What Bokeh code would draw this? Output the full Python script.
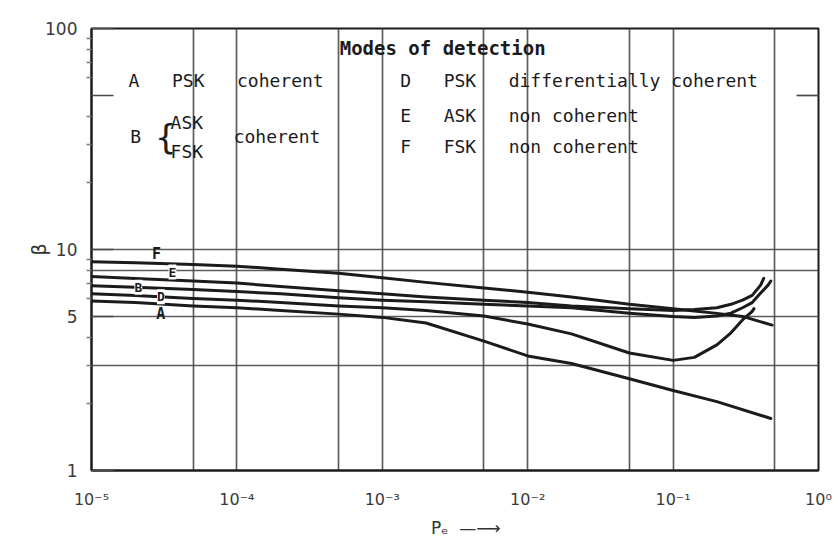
import numpy as np
from bokeh.plotting import figure
from bokeh.models import FixedTicker, CustomJSTickFormatter, LogAxis, Label, Range1d
from bokeh.embed import file_html
from bokeh.resources import INLINE

# ---------------- data ----------------
pe_main = [1e-5, 2e-5, 5e-5, 1e-4, 2e-4, 5e-4, 1e-3, 2e-3, 5e-3, 1e-2, 2e-2, 5e-2, 1e-1]

# A: PSK coherent
pe_A = pe_main + [0.2, 0.47]
beta_A = [5.85, 5.75, 5.55, 5.45, 5.3, 5.1, 4.93, 4.65, 3.85, 3.3, 3.05, 2.6, 2.3, 2.05, 1.72]

# B: ASK / FSK coherent
pe_B = pe_main + [0.14, 0.2, 0.25, 0.3, 0.35, 0.4, 0.45, 0.47]
beta_B = [6.85, 6.75, 6.6, 6.45, 6.3, 6.05, 5.9, 5.8, 5.65, 5.55, 5.45, 5.15, 4.97,
          4.93, 5.0, 5.15, 5.45, 5.75, 6.35, 6.9, 7.2]

# D: PSK differentially coherent
pe_D = pe_main + [0.14, 0.2, 0.25, 0.3, 0.35, 0.36]
beta_D = [6.3, 6.2, 6.0, 5.9, 5.75, 5.55, 5.45, 5.3, 5.0, 4.6, 4.15, 3.4, 3.15,
          3.25, 3.7, 4.2, 4.8, 5.25, 5.4]

# E: ASK non coherent
pe_E = pe_main + [0.14, 0.2, 0.25, 0.3, 0.35, 0.4, 0.42]
beta_E = [7.55, 7.4, 7.2, 7.05, 6.8, 6.5, 6.3, 6.1, 5.9, 5.75, 5.55, 5.4, 5.3,
          5.35, 5.45, 5.65, 5.9, 6.2, 6.9, 7.4]

# F: FSK non coherent
pe_F = pe_main + [0.14, 0.2, 0.3, 0.48]
beta_F = [8.8, 8.7, 8.55, 8.4, 8.15, 7.8, 7.45, 7.1, 6.7, 6.4, 6.1, 5.65, 5.4,
          5.27, 5.14, 4.98, 4.55]

x_ticks = [1e-5, 1e-4, 1e-3, 1e-2, 1e-1, 1.0]
x_grid = [5e-5, 1e-4, 5e-4, 1e-3, 5e-3, 1e-2, 5e-2, 1e-1, 5e-1]
y_ticks = [1, 5, 10, 50, 100]
y_minor = [2, 3, 4, 6, 7, 8, 9, 20, 30, 40, 60, 70, 80, 90]
y_grid = [3, 5, 8, 10]

NB = "\u00a0"
title_text = "Modes of detection"
legend_rows = {
    "A": "A" + NB * 3 + "PSK" + NB * 3 + "coherent",
    "D": "D" + NB * 3 + "PSK" + NB * 3 + "differentially coherent",
    "E": "E" + NB * 3 + "ASK" + NB * 3 + "non coherent",
    "F": "F" + NB * 3 + "FSK" + NB * 3 + "non coherent",
}

INK = "#1b1b1b"
GRID = "#4a4a4a"
MONO = "DejaVu Sans Mono"

# ---------------- figure ----------------
p = figure(width=833, height=542, x_axis_type="log", y_axis_type="log",
           x_range=Range1d(1e-5, 1.0), y_range=Range1d(1, 100),
           output_backend="svg", toolbar_location=None,
           min_border_left=91, min_border_right=15, min_border_top=28, min_border_bottom=72)
p.background_fill_color = "white"
p.border_fill_color = "white"
p.outline_line_color = INK
p.outline_line_width = 2

# grids
p.xgrid.ticker = FixedTicker(ticks=x_grid)
p.ygrid.ticker = FixedTicker(ticks=y_grid)
for g in (p.xgrid[0], p.ygrid[0]):
    g.grid_line_color = GRID
    g.grid_line_width = 1.7
    g.grid_line_alpha = 0.9

# x axis
xa = p.xaxis[0]
xa.ticker = FixedTicker(ticks=x_ticks, minor_ticks=[])
xa.formatter = CustomJSTickFormatter(code="""
const e = Math.round(Math.log10(tick));
const m = {"-":"\u207b","0":"\u2070","1":"\u00b9","2":"\u00b2","3":"\u00b3","4":"\u2074","5":"\u2075","6":"\u2076","7":"\u2077","8":"\u2078","9":"\u2079"};
return "10" + String(e).split("").map(c => m[c]).join("");
""")
xa.major_tick_in = 0
xa.major_tick_out = 0
xa.minor_tick_in = 0
xa.minor_tick_out = 0
xa.axis_line_color = INK
xa.axis_line_width = 2
xa.major_label_standoff = 19
xa.major_label_text_font = "DejaVu Sans"
xa.major_label_text_font_size = "16px"
xa.major_label_text_color = "#3a3a3a"
xa.axis_label = NB * 4 + "P\u2091" + NB * 2 + "\u2014\u27f6"
xa.axis_label_text_font = "DejaVu Sans"
xa.axis_label_text_font_size = "17px"
xa.axis_label_text_font_style = "normal"
xa.axis_label_text_color = "#333333"
xa.axis_label_standoff = 6

# y axis (left)
ya = p.yaxis[0]
ya.ticker = FixedTicker(ticks=y_ticks, minor_ticks=y_minor)
ya.formatter = CustomJSTickFormatter(code="return tick == 50 ? '' : tick.toFixed(0);")
ya.major_tick_in = 22
ya.major_tick_out = 0
ya.major_tick_line_color = GRID
ya.major_tick_line_width = 1.7
ya.minor_tick_in = 0
ya.minor_tick_out = 5
ya.minor_tick_line_color = "#7a7a7a"
ya.minor_tick_line_width = 1.5
ya.axis_line_color = INK
ya.axis_line_width = 2
ya.major_label_standoff = 9
ya.major_label_text_font = "DejaVu Sans"
ya.major_label_text_font_size = "17px"
ya.major_label_text_color = "#3a3a3a"
ya.axis_label = "\u03b2"
ya.axis_label_text_font = "DejaVu Sans"
ya.axis_label_text_font_size = "19px"
ya.axis_label_text_font_style = "normal"
ya.axis_label_text_color = "#333333"
ya.axis_label_standoff = -8

# y axis (right) - only the short inner tick
ra = LogAxis(ticker=FixedTicker(ticks=[50], minor_ticks=[]),
             formatter=CustomJSTickFormatter(code="return '';"))
ra.major_tick_in = 22
ra.major_tick_out = 0
ra.major_tick_line_color = GRID
ra.major_tick_line_width = 1.7
ra.minor_tick_in = 0
ra.minor_tick_out = 0
ra.axis_line_color = None
ra.major_label_text_font_size = "0px"
p.add_layout(ra, "right")

# ---------------- curves ----------------
for pe, beta in ((pe_F, beta_F), (pe_E, beta_E), (pe_B, beta_B), (pe_D, beta_D), (pe_A, beta_A)):
    p.line(pe, beta, line_color=INK, line_width=3, line_join="round", line_cap="round")


def at(pe_list, beta_list, pe):
    return float(10 ** np.interp(np.log10(pe), np.log10(pe_list), np.log10(beta_list)))


# ---------------- curve letters ----------------
def letter(text, x, y, size="13px", bg=False):
    lab = Label(x=x, y=y, text=text, text_align="center", text_baseline="middle",
                text_font=MONO, text_font_size=size, text_font_style="bold",
                text_color=INK)
    if bg:
        lab.background_fill_color = "white"
        lab.background_fill_alpha = 1.0
    p.add_layout(lab)


xf, xe, xb, xd, xa_ = 2.8e-5, 3.6e-5, 2.1e-5, 3.0e-5, 3.0e-5
letter("F", xf, at(pe_F, beta_F, xf) * 1.1, size="15px")
letter("E", xe, (at(pe_F, beta_F, xe) * at(pe_E, beta_E, xe)) ** 0.5, bg=True)
letter("B", xb, at(pe_B, beta_B, xb), bg=True)
letter("D", xd, at(pe_D, beta_D, xd), bg=True)
letter("A", xa_, at(pe_A, beta_A, xa_) / 1.11, size="15px")


# ---------------- legend block ----------------
def text(t, x, y, size="18px", align="left", bold=False):
    p.add_layout(Label(x=x, y=y, text=t, text_align=align, text_baseline="middle",
                       text_font=MONO, text_font_size=size,
                       text_font_style="bold" if bold else "normal", text_color=INK))


text(title_text, 2.6e-3, 82, size="19px", align="center", bold=True)
text(legend_rows["A"], 1.8e-5, 58)
text(legend_rows["D"], 1.33e-3, 58)
text(legend_rows["E"], 1.33e-3, 40.4)
text(legend_rows["F"], 1.33e-3, 29.3)
text("B", 1.85e-5, 32.4)
text("{", 2.75e-5, 32.4, size="34px")
text("ASK", 3.5e-5, 37.6)
text("FSK", 3.5e-5, 27.8)
text("coherent", 9.5e-5, 32.4)

open("out.html", "w").write(file_html(p, INLINE))
